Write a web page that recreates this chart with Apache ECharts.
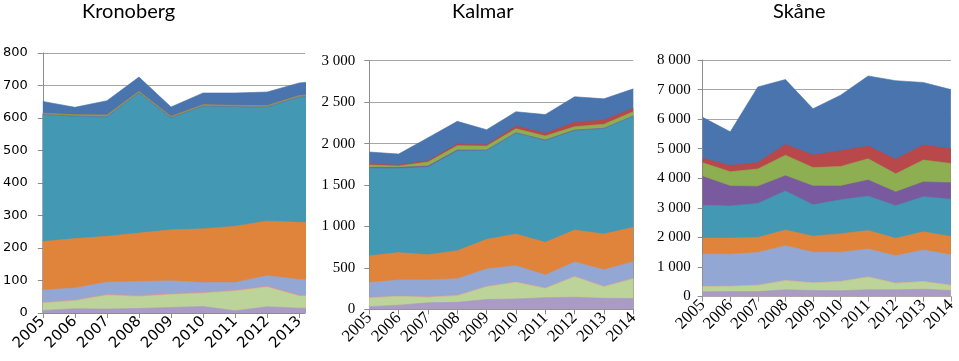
<!DOCTYPE html>
<html>
<head>
<meta charset="utf-8">
<script src="https://cdn.jsdelivr.net/npm/echarts@6/dist/echarts.min.js"></script>
<style>
html,body{margin:0;padding:0;background:#fff;}
#chart{width:959px;height:361px;}
</style>
</head>
<body>
<div id="chart"></div>
<script>
// ---------- DATA ----------
const years = [2005, 2006, 2007, 2008, 2009, 2010, 2011, 2012, 2013, 2014];
const titles = ['Kronoberg', 'Kalmar', 'Skåne'];
const layerNames = ['S10', 'S9', 'S8', 'S7', 'S6', 'S5', 'S4', 'S3', 'S2', 'S1']; // bottom -> top

// Kronoberg (2014 cut off in picture)
const kron_lpurple = [8, 13, 12, 14, 17, 20, 7, 19, 15, 14];
const kron_lgreen  = [23, 25, 43, 37, 40, 41, 61, 61, 37, 38];
const kron_pink    = [2, 2, 3, 3, 3, 3, 3, 3, 3, 3];
const kron_lblue   = [38, 37, 37, 43, 39, 30, 23, 32, 48, 46];
const kron_orange  = [149, 152, 141, 149, 157, 165, 173, 168, 176, 178];
const kron_teal    = [390, 376, 367, 431, 344, 377, 367, 350, 385, 392];
const kron_purple  = [1, 1, 1, 1, 1, 1, 1, 1, 1, 1];
const kron_green   = [4, 4, 5, 4, 4, 4, 4, 4, 4, 4];
const kron_red     = [0, 0, 0, 0, 0, 0, 0, 0, 0, 0];
const kron_blue    = [36, 23, 44, 44, 29, 36, 38, 42, 39, 40];

// Kalmar
const kalm_lpurple = [32, 50, 78, 84, 118, 125, 140, 145, 133, 130];
const kalm_lgreen  = [105, 107, 67, 81, 155, 201, 113, 249, 140, 240];
const kalm_pink    = [5, 5, 5, 5, 5, 5, 5, 5, 5, 5];
const kalm_lblue   = [180, 192, 204, 200, 209, 196, 156, 172, 200, 200];
const kalm_orange  = [323, 330, 305, 338, 357, 382, 394, 386, 431, 415];
const kalm_teal    = [1055, 1016, 1056, 1202, 1071, 1216, 1227, 1198, 1271, 1340];
const kalm_purple  = [13, 13, 14, 12, 7, 6, 8, 8, 4, 3];
const kalm_green   = [28, 16, 48, 53, 48, 48, 48, 41, 48, 52];
const kalm_red     = [12, 12, 16, 20, 15, 32, 33, 53, 52, 40];
const kalm_blue    = [145, 133, 277, 273, 182, 173, 226, 308, 256, 235];

// Skåne
const skan_lpurple = [160, 165, 165, 225, 205, 195, 230, 225, 245, 205];
const skan_lgreen  = [180, 180, 215, 315, 260, 315, 430, 225, 260, 175];
const skan_pink    = [10, 10, 10, 10, 10, 10, 10, 10, 10, 10];
const skan_lblue   = [1080, 1075, 1100, 1170, 1025, 980, 940, 920, 1060, 1020];
const skan_orange  = [545, 545, 510, 530, 540, 625, 620, 590, 615, 620];
const skan_teal    = [1115, 1085, 1150, 1315, 1060, 1145, 1165, 1100, 1185, 1260];
const skan_purple  = [970, 675, 575, 520, 640, 465, 545, 465, 500, 560];
const skan_green   = [465, 485, 590, 695, 620, 665, 720, 615, 740, 650];
const skan_red     = [155, 210, 215, 365, 425, 530, 430, 495, 510, 500];
const skan_blue    = [1380, 1140, 2560, 2195, 1565, 1880, 2370, 2655, 2115, 2000];

const yMax = [800, 3000, 8000];
const yInterval = [100, 500, 1000];

// ---------- STYLE ----------
const colors = ['#A99BC6', '#BCD39A', '#D99694', '#93A7D4', '#E0843C', '#4398B3', '#7A5A9E', '#8DAE51', '#B9484B', '#4A74AE'];
const chartLayers = [
  [kron_lpurple, kron_lgreen, kron_pink, kron_lblue, kron_orange, kron_teal, kron_purple, kron_green, kron_red, kron_blue],
  [kalm_lpurple, kalm_lgreen, kalm_pink, kalm_lblue, kalm_orange, kalm_teal, kalm_purple, kalm_green, kalm_red, kalm_blue],
  [skan_lpurple, skan_lgreen, skan_pink, skan_lblue, skan_orange, skan_teal, skan_purple, skan_green, skan_red, skan_blue]
];
const grids = [
  {left: 41.7, right: 654, top: 53, bottom: 48},
  {left: 369.3, right: 325.7, top: 60.7, bottom: 51.7},
  {left: 702.7, right: 3.3, top: 60, bottom: 64.5}
];
const xMax = [2013.18, 2014, 2014];
const fonts = ['DejaVu Sans', 'Liberation Serif', 'Liberation Serif'];
const fsY = [13, 15, 15];
const fsX = [15, 17, 17];
const yMargin = [15, 14, 12];
const titleLeft = [82, 452, 773];

function fmtSpace(v) {
  if (v >= 1000) return Math.floor(v / 1000) + ' ' + String(v % 1000).padStart(3, '0');
  return String(v);
}

const axisGrey = '#8C8C8C';
const option = {
  animation: false,
  backgroundColor: '#fff',
  title: titles.map((t, i) => ({
    text: t, left: titleLeft[i], top: 2, padding: 0,
    textStyle: {fontFamily: 'Lato', fontSize: 20, fontWeight: 'normal', color: '#000'}
  })),
  grid: grids,
  xAxis: grids.map((g, i) => ({
    type: 'value', gridIndex: i, min: 2005, max: xMax[i], interval: 1,
    axisLine: {show: true, lineStyle: {color: axisGrey}},
    axisTick: {show: true, length: 5, lineStyle: {color: axisGrey}},
    splitLine: {show: false},
    axisLabel: {
      rotate: 45, margin: 6, fontFamily: fonts[i], fontSize: fsX[i], color: '#000',
      showMaxLabel: i !== 0,
      formatter: v => (Math.abs(v - Math.round(v)) < 1e-6 ? String(Math.round(v)) : '')
    }
  })),
  yAxis: grids.map((g, i) => ({
    type: 'value', gridIndex: i, min: 0, max: yMax[i], interval: yInterval[i],
    axisLine: {show: true, lineStyle: {color: axisGrey}},
    axisTick: {show: true, length: 5, lineStyle: {color: axisGrey}},
    splitLine: {show: true, lineStyle: {color: '#A6A6A6', width: 1}},
    axisLabel: {
      margin: yMargin[i], fontFamily: fonts[i], fontSize: fsY[i], color: '#000',
      formatter: i === 0 ? (v => String(v)) : fmtSpace
    }
  })),
  series: []
};

// Build cumulative (stacked) tops; draw the top layer first so lower layers paint over it.
chartLayers.forEach((layers, ci) => {
  const cum = [];
  let run = years.map(() => 0);
  layers.forEach(vals => {
    run = run.map((r, k) => r + vals[k]);
    cum.push(run.slice());
  });
  for (let li = layers.length - 1; li >= 0; li--) {
    option.series.push({
      name: titles[ci] + ' ' + layerNames[li],
      type: 'line',
      xAxisIndex: ci, yAxisIndex: ci,
      symbol: 'none',
      clip: true,
      lineStyle: {width: 0.6, color: colors[li]},
      areaStyle: {color: colors[li], opacity: 1, origin: 'start'},
      itemStyle: {color: colors[li]},
      data: years.map((y, k) => [y, cum[li][k]])
    });
  }
});

const chart = echarts.init(document.getElementById('chart'), null, {renderer: 'canvas'});
chart.setOption(option);
</script>
</body>
</html>
